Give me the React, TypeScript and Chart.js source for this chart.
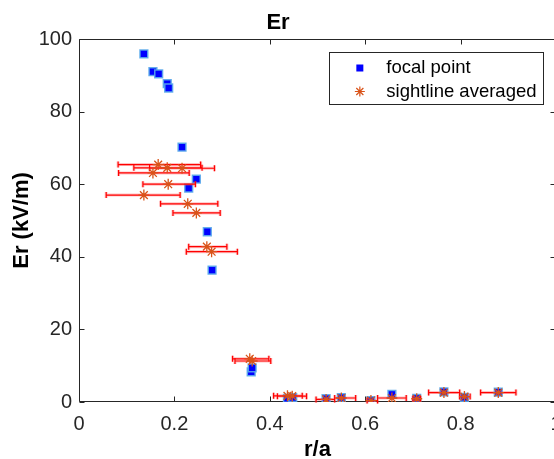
import React, { useEffect, useRef } from "react";
import { Chart, registerables } from "chart.js";

Chart.register(...registerables);

// ---- data ----
const seriesLabels = ["focal point", "sightline averaged"];
const chartTitle = "Er";
const xAxisLabel = "r/a";
const yAxisLabel = "Er (kV/m)";
const xTicks = [0, 0.2, 0.4, 0.6, 0.8, 1];
const yTicks = [0, 20, 40, 60, 80, 100];

const focalX = [0.136, 0.155, 0.167, 0.185, 0.188, 0.216, 0.246, 0.230, 0.269, 0.279, 0.361, 0.363, 0.437, 0.448, 0.518, 0.550, 0.612, 0.656, 0.708, 0.765, 0.808, 0.879];
const focalY = [95.9, 91.0, 90.4, 87.7, 86.5, 70.2, 61.4, 58.9, 46.9, 36.3, 8.3, 9.4, 1.0, 1.2, 0.9, 1.2, 0.4, 2.1, 1.0, 2.8, 1.3, 2.7];

const sightX = [0.166, 0.185, 0.216, 0.155, 0.187, 0.136, 0.228, 0.246, 0.268, 0.278, 0.358, 0.363, 0.437, 0.447, 0.518, 0.550, 0.612, 0.656, 0.708, 0.765, 0.808, 0.879];
const sightY = [65.4, 64.5, 64.4, 63.1, 60.0, 57.0, 54.6, 52.1, 42.8, 41.4, 11.9, 11.3, 1.7, 1.6, 0.7, 1.1, 0.4, 1.1, 0.9, 2.6, 1.5, 2.6];
const sightLo = [0.082, 0.115, 0.148, 0.083, 0.134, 0.057, 0.171, 0.197, 0.230, 0.225, 0.322, 0.327, 0.408, 0.416, 0.497, 0.536, 0.604, 0.626, 0.700, 0.733, 0.798, 0.842];
const sightHi = [0.255, 0.258, 0.284, 0.231, 0.244, 0.212, 0.291, 0.296, 0.310, 0.332, 0.398, 0.402, 0.468, 0.477, 0.536, 0.580, 0.626, 0.686, 0.716, 0.798, 0.820, 0.916];

// ---- styles ----
const FONT = "'Liberation Sans', Arial, Helvetica, sans-serif";
const AXIS_COLOR = "#262626";
const SQUARE_FILL = "#0000ff";
const SQUARE_EDGE = "rgba(90,170,235,0.9)";
const STAR_COLOR = "#D95319";
const ERR_COLOR = "#ff0000";

const boxPlugin = {
  id: "matlabBox",
  beforeDatasetsDraw(chart: any) {
    const { ctx, chartArea: a, scales } = chart;
    const L = Math.round(a.left) + 0.5;
    const R = Math.round(a.right) - 0.5;
    const T = Math.round(a.top) + 0.5;
    const B = Math.round(a.bottom) - 0.5;
    ctx.save();
    ctx.strokeStyle = AXIS_COLOR;
    ctx.lineWidth = 1;
    ctx.beginPath();
    ctx.rect(L, T, R - L, B - T);
    const tl = 5;
    xTicks.forEach((v) => {
      const px = Math.round(scales.x.getPixelForValue(v)) + 0.5;
      ctx.moveTo(px, B);
      ctx.lineTo(px, B - tl);
      ctx.moveTo(px, T);
      ctx.lineTo(px, T + tl);
    });
    yTicks.forEach((v) => {
      const py = Math.round(scales.y.getPixelForValue(v)) + 0.5;
      ctx.moveTo(L, py);
      ctx.lineTo(L + tl, py);
      ctx.moveTo(R, py);
      ctx.lineTo(R - tl, py);
    });
    ctx.stroke();
    ctx.restore();
  },
};

const errorBarPlugin = {
  id: "xErrorBars",
  beforeDatasetDraw(chart: any, args: any) {
    if (args.index !== 1) return;
    const { ctx, scales } = chart;
    const cap = 3;
    const pass = (color: string, width: number) => {
      ctx.strokeStyle = color;
      ctx.lineWidth = width;
      ctx.beginPath();
      for (let i = 0; i < sightY.length; i++) {
        const x0 = scales.x.getPixelForValue(sightLo[i]);
        const x1 = scales.x.getPixelForValue(sightHi[i]);
        const y = scales.y.getPixelForValue(sightY[i]);
        ctx.moveTo(x0, y);
        ctx.lineTo(x1, y);
        ctx.moveTo(x0, y - cap);
        ctx.lineTo(x0, y + cap);
        ctx.moveTo(x1, y - cap);
        ctx.lineTo(x1, y + cap);
      }
      ctx.stroke();
    };
    ctx.save();
    pass("rgba(255,80,80,0.35)", 3);
    pass(ERR_COLOR, 1.2);
    ctx.restore();
  },
};

const legendPlugin = {
  id: "boxLegend",
  afterDraw(chart: any) {
    const { ctx, chartArea: a, scales } = chart;
    ctx.save();
    ctx.font = `18.5px ${FONT}`;
    const maxW = Math.max(...seriesLabels.map((s) => ctx.measureText(s).width));
    const right = Math.round(scales.x.getPixelForValue(0.972));
    const top = Math.round(a.top) + 13;
    const width = 57 + maxW + 7;
    const height = 52;
    const left = right - width;
    ctx.fillStyle = "#ffffff";
    ctx.fillRect(left, top, width, height);
    ctx.strokeStyle = AXIS_COLOR;
    ctx.lineWidth = 1;
    ctx.strokeRect(Math.round(left) + 0.5, top + 0.5, Math.round(width), height);
    const mx = left + 31;
    const rows = [top + 16, top + 39.5];
    ctx.fillStyle = SQUARE_FILL;
    ctx.fillRect(mx - 3.5, rows[0] - 3.5, 7, 7);
    ctx.strokeStyle = STAR_COLOR;
    ctx.lineWidth = 1.2;
    ctx.beginPath();
    const r = 5;
    for (let k = 0; k < 4; k++) {
      const ang = (k * Math.PI) / 4;
      ctx.moveTo(mx - Math.cos(ang) * r, rows[1] - Math.sin(ang) * r);
      ctx.lineTo(mx + Math.cos(ang) * r, rows[1] + Math.sin(ang) * r);
    }
    ctx.stroke();
    ctx.fillStyle = "#000000";
    ctx.textBaseline = "middle";
    ctx.textAlign = "left";
    seriesLabels.forEach((s, i) => ctx.fillText(s, left + 57.5, rows[i]));
    ctx.restore();
  },
};

export default function App() {
  const ref = useRef<HTMLCanvasElement | null>(null);

  useEffect(() => {
    if (!ref.current) return;
    Chart.defaults.font.family = FONT;
    const chart = new Chart(ref.current, {
      type: "scatter",
      data: {
        datasets: [
          {
            label: seriesLabels[0],
            data: focalX.map((x, i) => ({ x, y: focalY[i] })),
            pointStyle: "rect",
            pointRadius: 5.5,
            pointHoverRadius: 5.5,
            backgroundColor: SQUARE_FILL,
            borderColor: SQUARE_EDGE,
            borderWidth: 1.5,
            order: 1,
          },
          {
            label: seriesLabels[1],
            data: sightX.map((x, i) => ({ x, y: sightY[i] })),
            pointStyle: "star",
            pointRadius: 5.5,
            pointHoverRadius: 5.5,
            backgroundColor: STAR_COLOR,
            borderColor: STAR_COLOR,
            borderWidth: 1.3,
            order: 0,
          },
        ],
      },
      options: {
        responsive: false,
        devicePixelRatio: 1,
        animation: false,
        layout: { padding: { left: 0, right: 24, top: 0, bottom: 0 } },
        plugins: {
          legend: { display: false },
          tooltip: { enabled: false },
          title: {
            display: true,
            text: chartTitle,
            color: "#000000",
            font: { size: 22, weight: "bold", family: FONT },
            padding: { top: 9.8, bottom: 2.8 },
          },
        },
        scales: {
          x: {
            type: "linear",
            min: 0,
            max: 1,
            afterFit: (s: any) => {
              s.height = 61;
            },
            afterBuildTicks: (s: any) => {
              s.ticks = xTicks.map((v) => ({ value: v }));
            },
            grid: { display: false, drawTicks: false },
            border: { display: false },
            ticks: {
              color: AXIS_COLOR,
              font: { size: 20, family: FONT },
              padding: 10,
              maxRotation: 0,
              autoSkip: false,
              callback: (v: any) => String(Number(Number(v).toFixed(1))),
            },
            title: {
              display: true,
              text: xAxisLabel,
              color: "#000000",
              font: { size: 22, weight: "bold", family: FONT },
              padding: { top: 0, bottom: 0 },
            },
          },
          y: {
            type: "linear",
            min: 0,
            max: 100,
            afterFit: (s: any) => {
              s.width = 79;
            },
            afterBuildTicks: (s: any) => {
              s.ticks = yTicks.map((v) => ({ value: v }));
            },
            grid: { display: false, drawTicks: false },
            border: { display: false },
            ticks: {
              color: AXIS_COLOR,
              font: { size: 20, family: FONT },
              padding: 7,
              autoSkip: false,
              callback: (v: any) => String(v),
            },
            title: {
              display: true,
              text: yAxisLabel,
              color: "#000000",
              font: { size: 22, weight: "bold", family: FONT },
              padding: { top: 8.5, bottom: 0 },
            },
          },
        },
      },
      plugins: [boxPlugin, errorBarPlugin, legendPlugin],
    });
    return () => chart.destroy();
  }, []);

  return (
    <div
      style={{
        position: "fixed",
        left: 0,
        top: 0,
        width: 554,
        height: 459,
        overflow: "hidden",
        background: "#ffffff",
      }}
    >
      <canvas ref={ref} width={580} height={463} style={{ width: 580, height: 463, display: "block" }} />
    </div>
  );
}
